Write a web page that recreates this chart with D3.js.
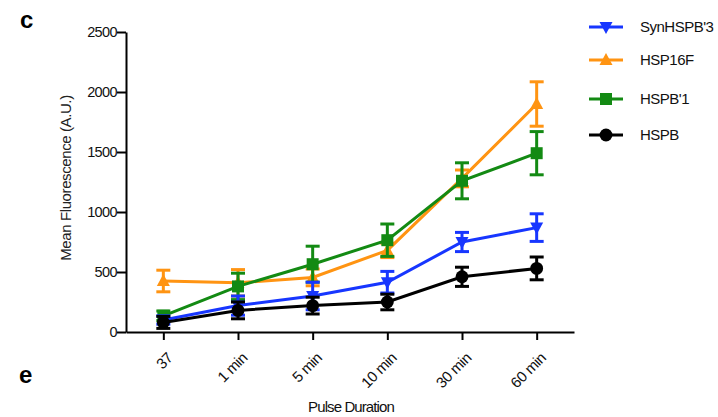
<!DOCTYPE html>
<html>
<head>
<meta charset="utf-8">
<script src="https://cdn.jsdelivr.net/npm/d3@7"></script>
<style>
  body { margin: 0; background: #fff; }
  svg { font-family: "Liberation Sans", Arial, sans-serif; }
</style>
</head>
<body>
<svg id="chart" width="718" height="417"></svg>
<script>
const categories = ["37", "1 min", "5 min", "10 min", "30 min", "60 min"];
const yTicks = [0, 500, 1000, 1500, 2000, 2500];

const synMean  = [100, 220, 300, 415, 750, 870];
const synErr   = [35, 80, 115, 90, 80, 115];
const hsp16Mean = [425, 410, 455, 680, 1280, 1900];
const hsp16Err  = [90, 110, 70, 60, 70, 185];
const hspb1Mean = [135, 380, 565, 765, 1260, 1490];
const hspb1Err  = [40, 110, 150, 135, 150, 180];
const hspbMean = [80, 180, 220, 250, 460, 530];
const hspbErr  = [50, 70, 70, 65, 80, 95];

const seriesNames = ["SynHSPB'3", "HSP16F", "HSPB'1", "HSPB"];
const seriesColors = ["#1736ff", "#ff9412", "#138a13", "#000000"];

// draw order: last one ends on top
const series = [
	{ name: seriesNames[1], color: seriesColors[1], mean: hsp16Mean, err: hsp16Err, sym: "up" },
	{ name: seriesNames[2], color: seriesColors[2], mean: hspb1Mean, err: hspb1Err, sym: "square" },
	{ name: seriesNames[0], color: seriesColors[0], mean: synMean, err: synErr, sym: "down" },
	{ name: seriesNames[3], color: seriesColors[3], mean: hspbMean, err: hspbErr, sym: "circle" }
];

const svg = d3.select("#chart");
const margin = { left: 126, right: 144, top: 32, bottom: 85 };
const width = 718 - margin.left - margin.right;
const height = 417 - margin.top - margin.bottom;

const x = d3.scalePoint().domain(categories).range([margin.left, margin.left + width]).padding(0.5);
const y = d3.scaleLinear().domain([0, 2500]).range([margin.top + height, margin.top]);

function symbolPath(kind) {
	if (kind == "up") return "M0,-7L6.5,5L-6.5,5Z";
	if (kind == "down") return "M0,7L6.5,-5L-6.5,-5Z";
	if (kind == "square") return "M-6,-6H6V6H-6Z";
	return d3.symbol().type(d3.symbolCircle).size(130)();
}

// axes
const xAxis = svg.append("g")
	.attr("transform", "translate(0," + (margin.top + height) + ")")
	.call(d3.axisBottom(x).tickSize(8).tickSizeOuter(0));
xAxis.select(".domain").attr("stroke-width", 2);
xAxis.selectAll(".tick line").attr("stroke-width", 2);
xAxis.selectAll(".tick text")
	.attr("font-size", 15)
	.attr("fill", "#111")
	.attr("letter-spacing", "-0.4px")
	.attr("text-anchor", "end")
	.attr("dx", 0).attr("dy", 0)
	.attr("transform", "translate(2,19) rotate(-45)");

const yAxis = svg.append("g")
	.attr("transform", "translate(" + margin.left + ",0)")
	.call(d3.axisLeft(y).tickValues(yTicks).tickFormat(d3.format("d")).tickSize(9).tickSizeOuter(0));
yAxis.select(".domain").attr("stroke-width", 2);
yAxis.selectAll(".tick line").attr("stroke-width", 2);
yAxis.selectAll(".tick text")
	.attr("font-size", 14.5)
	.attr("fill", "#111")
	.attr("letter-spacing", "-0.6px")
	.attr("x", -9);

// series
series.forEach(function(s) {
	const g = svg.append("g");
	const line = d3.line()
		.x(function(d, i) { return x(categories[i]); })
		.y(function(d) { return y(d); });
	g.append("path")
		.attr("d", line(s.mean))
		.attr("fill", "none")
		.attr("stroke", s.color)
		.attr("stroke-width", 3);
	s.mean.forEach(function(m, i) {
		const cx = x(categories[i]);
		const top = y(m + s.err[i]), bot = y(Math.max(0, m - s.err[i]));
		g.append("line").attr("x1", cx).attr("x2", cx).attr("y1", top).attr("y2", bot)
			.attr("stroke", s.color).attr("stroke-width", 3);
		[top, bot].forEach(function(yy) {
			g.append("line").attr("x1", cx - 7).attr("x2", cx + 7).attr("y1", yy).attr("y2", yy)
				.attr("stroke", s.color).attr("stroke-width", 3);
		});
		g.append("path")
			.attr("d", symbolPath(s.sym))
			.attr("transform", "translate(" + cx + "," + y(m) + ")")
			.attr("fill", s.color);
	});
});

// legend
const legendY = [27, 60, 99, 135];
const legendSyms = ["down", "up", "square", "circle"];
seriesNames.forEach(function(name, i) {
	const g = svg.append("g").attr("transform", "translate(606," + legendY[i] + ")");
	g.append("line").attr("x1", -17).attr("x2", 17).attr("stroke", seriesColors[i]).attr("stroke-width", 3);
	g.append("path").attr("d", symbolPath(legendSyms[i])).attr("fill", seriesColors[i]);
	g.append("text").attr("x", 34).attr("y", 5).attr("font-size", 15)
		.attr("letter-spacing", "-0.5px").attr("fill", "#111").text(name);
});

// axis titles
svg.append("text")
	.attr("transform", "translate(71,178) rotate(-90)")
	.attr("text-anchor", "middle")
	.attr("font-size", 15)
	.attr("letter-spacing", "-0.4px")
	.attr("fill", "#222")
	.text("Mean Fluorescence (A.U.)");
svg.append("text")
	.attr("x", 351).attr("y", 412)
	.attr("text-anchor", "middle")
	.attr("font-size", 15)
	.attr("letter-spacing", "-0.9px")
	.attr("fill", "#111")
	.text("Pulse Duration");

// panel letters
svg.append("text").attr("x", 20).attr("y", 28).attr("font-size", 24).attr("font-weight", "bold").text("c");
svg.append("text").attr("x", 19).attr("y", 383).attr("font-size", 24).attr("font-weight", "bold").text("e");
</script>
</body>
</html>
